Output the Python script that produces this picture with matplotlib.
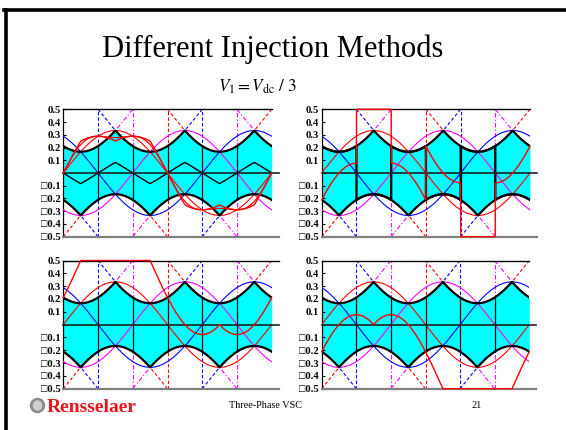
import numpy as np
import matplotlib

matplotlib.use("Agg")
import matplotlib.pyplot as plt
from matplotlib.lines import Line2D
from matplotlib.patches import Ellipse

plt.rcParams["mathtext.fontset"] = "stix"

# reference phase voltages: V1 = Vdc/3 plotted on a +/- Vdc/2 axis
AMPLITUDE = 1.0 / 3.0
RAIL = 0.5
PHASE_SHIFTS = [0.0, 120.0, -120.0]            # red, blue, magenta (deg)
PHASE_COLORS = ["#ff0000", "#0000ff", "#ff00ff"]
THIRD_HARMONIC = 1.0 / 6.0
SECTOR_EDGES = [60.0, 120.0, 180.0, 240.0, 300.0]

# dashed switching guides: jump angle, phase colour, and the 30 deg reach to the cusp
JUMP_ANGLES = [0.0, 60.0, 120.0, 180.0, 240.0, 300.0, 360.0]
JUMP_PHASE = [0, 1, 2, 0, 1, 2, 0]
CUSP_REACH = 30.0
CUSP_LEVEL = 1.0 / 3.0
DASH_STYLES = [(0, (3, 2)), (0, (3, 2)), (0, (4, 2, 1, 2))]

YTICKS = [0.5, 0.4, 0.3, 0.2, 0.1, 0.0, -0.1, -0.2, -0.3, -0.4, -0.5]
YTICK_LABELS = ["0.5", "0.4", "0.3", "0.2", "0.1", "",
                "\u25a10.1", "\u25a10.2", "\u25a10.3", "\u25a10.4", "\u25a10.5"]

# injection method per panel: top-left, top-right, bottom-left, bottom-right
METHODS = ["continuous", "dpwm1", "dpwm_max", "dpwm_min"]
PANEL_BOXES = [  # left, bottom, width, height (pixels of a 566x430 slide)
    (63.3, 193.3, 208.4, 127.4),
    (321.7, 193.3, 208.3, 127.4),
    (63.3, 41.3, 208.4, 128.2),
    (321.7, 41.3, 207.6, 128.2),
]
TOP_LINE_END = [360.0, 360.0, 372.0, 360.0]

W, H = 566.0, 430.0

theta = np.linspace(0.0, 360.0, 3601)
rad = np.deg2rad(theta)
phases = [AMPLITUDE * np.sin(rad + np.deg2rad(s)) for s in PHASE_SHIFTS]
vmax = np.max(phases, axis=0)
vmin = np.min(phases, axis=0)
lower = vmax - RAIL
upper = vmin + RAIL
red = phases[0]


def zero_sequence(method):
    if method == "continuous":
        return (vmax + vmin) / 2
    if method == "dpwm1":
        return np.where(vmax + vmin > 0, vmax - RAIL, vmin + RAIL)
    if method == "dpwm_max":
        return vmax - RAIL
    return vmin + RAIL


def draw_guides(ax):
    for i, (phi, k) in enumerate(zip(JUMP_ANGLES, JUMP_PHASE)):
        c, ls = PHASE_COLORS[k], DASH_STYLES[k]
        d = CUSP_REACH if i % 2 else -CUSP_REACH
        ax.plot([phi, phi + d], [RAIL, CUSP_LEVEL], color=c, lw=0.8, ls=ls, zorder=0.5)
        ax.plot([phi, phi - d], [-RAIL, -CUSP_LEVEL], color=c, lw=0.8, ls=ls, zorder=0.5)
        if 0 < phi < 360:
            ax.plot([phi, phi], [-RAIL, RAIL], color=c, lw=0.8, ls=ls, zorder=0.5)


def draw_panel(ax, method, top_end):
    draw_guides(ax)
    ax.fill_between(theta, lower, upper, color="#00ffff", lw=0, zorder=1)

    for v, c in zip(phases, PHASE_COLORS):
        ax.plot(theta, v, color=c, lw=0.8, zorder=3)

    lo = np.interp(SECTOR_EDGES, theta, lower)
    hi = np.interp(SECTOR_EDGES, theta, upper)
    ax.vlines(SECTOR_EDGES, lo, hi, color="black", lw=0.9, zorder=4)

    ax.plot(theta, upper, color="black", lw=1.6, zorder=4)
    ax.plot(theta, lower, color="black", lw=1.6, zorder=4)

    v0 = zero_sequence(method)
    if method == "continuous":
        ax.plot(theta, v0, color="black", lw=1.0, zorder=5)
        ax.plot(theta, red + AMPLITUDE * THIRD_HARMONIC * np.sin(3 * rad),
                color="#ff0000", lw=0.9, zorder=6)
    elif method == "dpwm1":
        ax.plot(theta, v0, color="black", lw=1.6, zorder=5)

    # rails and zero line
    ax.plot([0, top_end], [RAIL, RAIL], color="black", lw=1.0, clip_on=False, zorder=7)
    ax.plot([0, 372], [0, 0], color="#202020", lw=1.2, clip_on=False, zorder=7)
    ax.plot([0, 372], [-RAIL, -RAIL], color="#808080", lw=1.6, clip_on=False, zorder=7)

    ax.plot(theta, red - v0, color="#ff0000", lw=1.0, clip_on=False, zorder=8)

    ax.set_xlim(0, 360)
    ax.set_ylim(-RAIL, RAIL)
    for side in ("top", "right", "bottom"):
        ax.spines[side].set_visible(False)
    ax.spines["left"].set_linewidth(0.9)
    ax.set_xticks([])
    ax.set_yticks(YTICKS)
    ax.set_yticklabels(YTICK_LABELS, fontweight="bold",
                       family=["Liberation Serif", "DejaVu Sans"])
    ax.tick_params(axis="y", direction="in", length=2.5, width=0.8,
                   labelsize=7.6, pad=2)
    ax.patch.set_alpha(0)


fig = plt.figure(figsize=(W / 100, H / 100), dpi=100)

for method, box, top_end in zip(METHODS, PANEL_BOXES, TOP_LINE_END):
    l, b, w, h = box
    ax = fig.add_axes([l / W, b / H, w / W, h / H])
    draw_panel(ax, method, top_end)

# slide frame
fig.add_artist(Line2D([5.5 / W, 5.5 / W], [0, 1 - 9.5 / H], transform=fig.transFigure,
                      color="black", lw=2.6))
fig.add_artist(Line2D([4 / W, 1], [1 - 9.5 / H, 1 - 9.5 / H], transform=fig.transFigure,
                      color="black", lw=2.6))

fig.text(272.5 / W, 1 - 57 / H, "Different Injection Methods", ha="center",
         va="baseline", fontsize=22, family="Liberation Serif")
fig.text(257.5 / W, 1 - 91.5 / H, r"$V_1 = V_{\mathrm{dc}}\ /\ 3$", ha="center",
         va="baseline", fontsize=12.3)

# footer
fig.add_artist(Ellipse((37.5 / W, 1 - 405.5 / H), 14 / W, 14 / H,
                       transform=fig.transFigure, color="#8c8c8c"))
fig.add_artist(Ellipse((37.5 / W, 1 - 405.5 / H), 8 / W, 9 / H,
                       transform=fig.transFigure, color="#d0d0d0"))
fig.text(47 / W, 1 - 412 / H, "Rensselaer", color="#e8141b", fontsize=14,
         fontweight="bold", family="Liberation Serif", va="baseline")
fig.text(265.5 / W, 1 - 408 / H, "Three-Phase VSC", ha="center", va="baseline",
         fontsize=7.3, family="Liberation Serif")
fig.text(477 / W, 1 - 408 / H, "21", ha="center", va="baseline",
         fontsize=7.3, family="Liberation Serif")

fig.savefig("out.png", dpi=100)
plt.close(fig)
